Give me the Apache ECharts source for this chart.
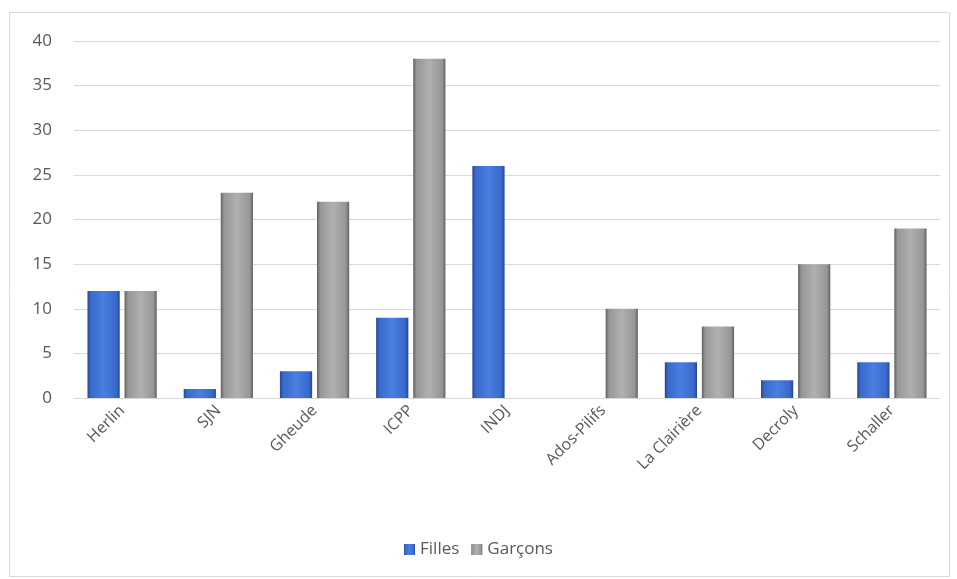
<!DOCTYPE html>
<html><head><meta charset="utf-8">
<script src="https://cdn.jsdelivr.net/npm/echarts@6/dist/echarts.min.js"></script>
<style>html,body{margin:0;padding:0;background:#fff}#c{width:957px;height:579px}</style>
</head><body><div id="c"></div>
<script>
const categories = ['Herlin','SJN','Gheude','ICPP','INDJ','Ados-Pilifs','La Clairière','Decroly','Schaller'];
const filles = [12,1,3,9,26,0,4,2,4];
const garcons = [12,23,22,38,0,10,8,15,19];
const yTicks = {min:0,max:40,interval:5};

const chart = echarts.init(document.getElementById('c'));
function grad(dark, mid, light){
  return new echarts.graphic.LinearGradient(0,0,1,0,[
    {offset:0,color:dark},{offset:0.1,color:mid},{offset:0.5,color:light},{offset:0.9,color:mid},{offset:1,color:dark}]);
}
const font = 'Open Sans, Liberation Sans, sans-serif';
chart.setOption({
  animation:false,
  graphic:[{type:'rect',shape:{x:9.5,y:12.5,width:940,height:564},style:{fill:null,stroke:'#d9d9d9',lineWidth:1},silent:true}],
  grid:{left:74,right:17,top:41,bottom:181},
  legend:{bottom:16,left:'center',itemWidth:11,itemHeight:11,itemGap:12,
    textStyle:{fontSize:17,color:'#595959',fontFamily:font},
    data:[{name:'Filles',icon:'rect'},{name:'Garçons',icon:'rect'}]},
  xAxis:{type:'category',data:categories,
    axisLine:{lineStyle:{color:'#d9d9d9'}},axisTick:{show:false},
    axisLabel:{rotate:45,fontSize:16,color:'#595959',fontFamily:font,interval:0,margin:10}},
  yAxis:{type:'value',min:yTicks.min,max:yTicks.max,interval:yTicks.interval,
    axisLine:{show:false},axisTick:{show:false},
    splitLine:{lineStyle:{color:'#d9d9d9'}},
    axisLabel:{fontSize:17,color:'#595959',fontFamily:font,margin:22}},
  series:[
    {name:'Filles',type:'bar',data:filles,barGap:'15%',barCategoryGap:'28%',
     itemStyle:{color:grad('#23468f','#3a68cc','#4a7ee0'),borderWidth:0}},
    {name:'Garçons',type:'bar',data:garcons,
     itemStyle:{color:grad('#606060','#969696','#b0b0b0'),borderWidth:0}}
  ]
});
</script></body></html>
